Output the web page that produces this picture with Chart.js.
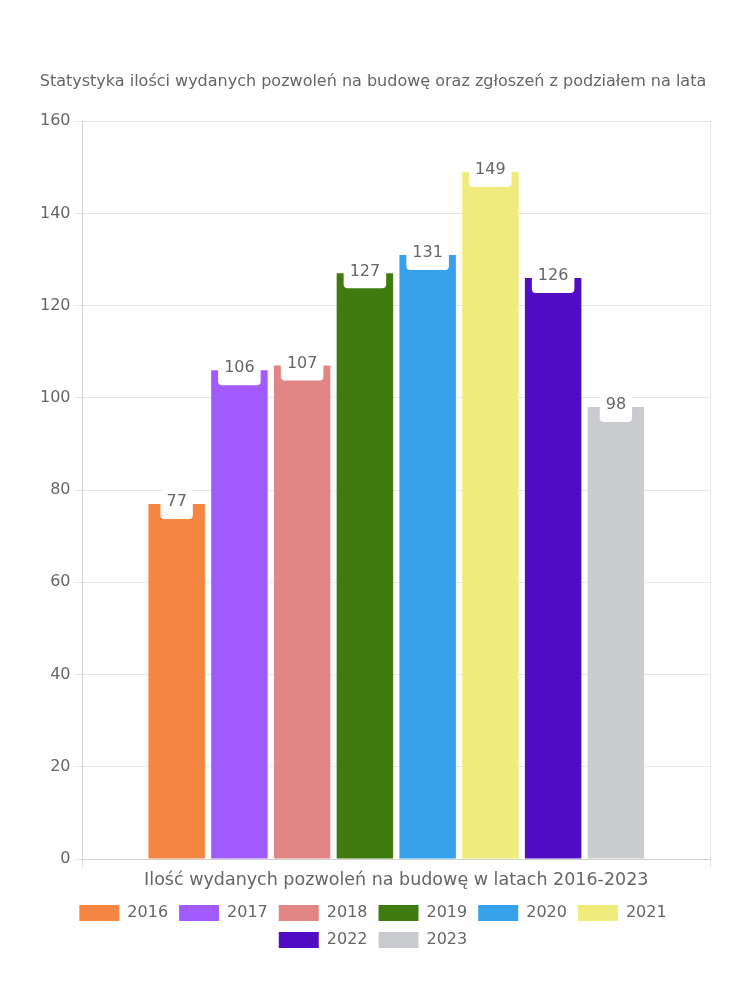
<!DOCTYPE html>
<html>
<head>
<meta charset="utf-8">
<script src="https://cdn.jsdelivr.net/npm/chart.js@4/dist/chart.umd.min.js"></script>
<style>
  body { margin: 0; background: #fff; }
  #wrap { width: 750px; height: 1000px; }
</style>
</head>
<body>
<div id="wrap"><canvas id="barChart"></canvas></div>
<script>
const categories = ["Ilość wydanych pozwoleń na budowę w latach 2016-2023"];
const years = ["2016", "2017", "2018", "2019", "2020", "2021", "2022", "2023"];
const permits = [77, 106, 107, 127, 131, 149, 126, 98];
const barColors = ["#F58542", "#A25BFE", "#E18585", "#3F7B0E", "#37A2EB", "#F0EB7D", "#510DC3", "#CACBCF"];
const yTicks = [0, 20, 40, 60, 80, 100, 120, 140, 160];

const fontName = "'DejaVu Sans', sans-serif";

/* white rounded box with the value on top of each bar */
const valueBoxes = {
  id: 'valueBoxes',
  afterDatasetsDraw(chart) {
    const ctx = chart.ctx;
    ctx.save();
    ctx.font = "16px " + fontName;
    ctx.textAlign = 'center';
    ctx.textBaseline = 'middle';
    chart.data.datasets.forEach((ds, i) => {
      const meta = chart.getDatasetMeta(i);
      meta.data.forEach((bar, j) => {
        const txt = String(ds.data[j]);
        const w = ctx.measureText(txt).width + 12;
        const x = bar.x - w / 2;
        const y = bar.y - 14;
        ctx.fillStyle = '#fff';
        ctx.beginPath();
        ctx.roundRect(x, y, w, 29, 4);
        ctx.fill();
        ctx.fillStyle = '#666';
        ctx.fillText(txt, bar.x, bar.y - 2);
      });
    });
    ctx.restore();
  }
};

var ctx = document.getElementById('barChart').getContext('2d');

new Chart(ctx, {
  type: 'bar',
  data: {
    labels: categories,
    datasets: years.map((yr, i) => ({
      label: yr,
      data: [permits[i]],
      backgroundColor: barColors[i]
    }))
  },
  options: {
    responsive: true,
    maintainAspectRatio: false,
    animation: false,
    layout: { padding: { top: 62, left: 36, right: 40, bottom: 42 } },
    plugins: {
      title: {
        display: true,
        text: "Statystyka ilości wydanych pozwoleń na budowę oraz zgłoszeń z podziałem na lata",
        color: '#666',
        font: { family: fontName, size: 16, weight: 'normal' },
        padding: { top: 10, bottom: 30 }
      },
      legend: {
        position: 'bottom',
        labels: {
          color: '#666',
          boxWidth: 40,
          boxHeight: 16,
          padding: 11,
          font: { family: fontName, size: 16 }
        }
      },
      tooltip: { enabled: false }
    },
    scales: {
      x: {
        grid: { color: '#e5e5e5' },
        border: { color: '#d0d0d0' },
        ticks: { color: '#666', font: { family: fontName, size: 17.5 } }
      },
      y: {
        min: yTicks[0],
        max: yTicks[yTicks.length - 1],
        grid: { color: '#e5e5e5' },
        border: { color: '#d0d0d0' },
        ticks: { stepSize: 20, color: '#666', padding: 4, font: { family: fontName, size: 16 } }
      }
    }
  },
  plugins: [valueBoxes]
});
</script>
</body>
</html>
